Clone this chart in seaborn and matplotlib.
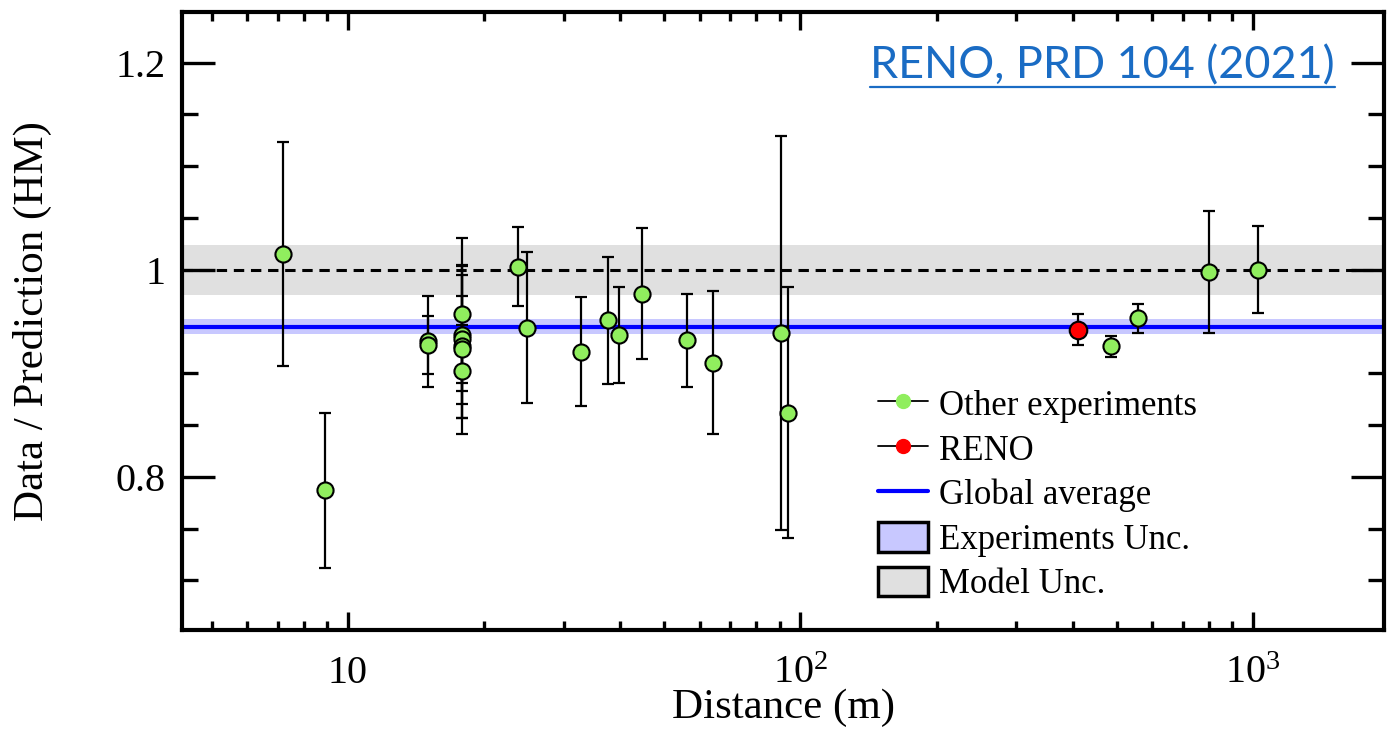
import numpy as np
import pandas as pd
import matplotlib
matplotlib.use("Agg")
import matplotlib.pyplot as plt
from matplotlib.lines import Line2D
from matplotlib.patches import Patch
from matplotlib.ticker import FixedLocator, FixedFormatter
import seaborn as sns

# ---------------- data ----------------
other_distance = [7.2, 8.9, 15.0, 15.0, 17.9, 17.9, 17.9, 17.9, 17.9, 17.9,
                  23.8, 24.9, 32.7, 37.5, 39.7, 44.6, 56.1, 64.1, 90.6, 93.8,
                  486, 557, 799, 1026]
other_ratio = [1.015, 0.787, 0.931, 0.927, 0.957, 0.937, 0.933, 0.926, 0.923, 0.902,
               1.003, 0.944, 0.921, 0.951, 0.937, 0.977, 0.932, 0.910, 0.939, 0.862,
               0.926, 0.953, 0.998, 1.000]
other_err = [0.108, 0.075, 0.044, 0.028, 0.074, 0.067, 0.042, 0.069, 0.082, 0.045,
             0.038, 0.073, 0.053, 0.061, 0.046, 0.063, 0.045, 0.069, 0.190, 0.121,
             0.010, 0.014, 0.059, 0.042]

reno_distance = [411]
reno_ratio = [0.942]
reno_err = [0.015]

global_avg = 0.945
global_avg_unc = 0.0075
model_center = 1.0
model_unc = 0.024

x_major_ticks = [10, 100, 1000]
x_major_labels = ["10", r"$\mathregular{10^{2}}$", r"$\mathregular{10^{3}}$"]
y_major_ticks = [0.8, 1.0, 1.2]
y_major_labels = ["0.8", "1", "1.2"]

legend_labels = ["Other experiments", "RENO", "Global average",
                 "Experiments Unc.", "Model Unc."]
annotation = "RENO, PRD 104 (2021)"

# ---------------- style ----------------
sns.set_style("ticks")
plt.rcParams["font.family"] = ["Liberation Serif", "DejaVu Serif"]
plt.rcParams["mathtext.fontset"] = "custom"
plt.rcParams["mathtext.rm"] = "Liberation Serif"
plt.rcParams["text.color"] = "black"
plt.rcParams["axes.labelcolor"] = "black"
plt.rcParams["xtick.color"] = "black"
plt.rcParams["ytick.color"] = "black"
plt.rcParams["axes.edgecolor"] = "black"

GREEN = "#90ee5e"
RED = "#ff0000"
BLUE = "#0000ff"
BLUE_BAND = "#c8c8ff"
GREY_BAND = "#e0e0e0"
LINK = "#1a6cc4"

fig = plt.figure(figsize=(13.94, 7.30), dpi=100)
ax = fig.add_axes([182 / 1394, 1 - 630 / 730, (1384 - 182) / 1394, (630 - 12) / 730])
ax.set_xscale("log")

# bands and reference lines
ax.axhspan(model_center - model_unc, model_center + model_unc, color=GREY_BAND, lw=0, zorder=0)
ax.axhspan(global_avg - global_avg_unc, global_avg + global_avg_unc, color=BLUE_BAND, lw=0, zorder=1)
ax.axhline(model_center, color="black", lw=2.2, linestyle=(0, (3.4, 2.2)), zorder=2)
ax.axhline(global_avg, color=BLUE, lw=3.0, zorder=2)

# error bars
ax.errorbar(other_distance, other_ratio, yerr=other_err, fmt="none", ecolor="black",
            elinewidth=1.6, capsize=4, capthick=1.6, zorder=3)
ax.errorbar(reno_distance, reno_ratio, yerr=reno_err, fmt="none", ecolor="black",
            elinewidth=1.6, capsize=4, capthick=1.6, zorder=3)

df_other = pd.DataFrame({"d": other_distance, "r": other_ratio})
df_reno = pd.DataFrame({"d": reno_distance, "r": reno_ratio})
sns.scatterplot(data=df_other, x="d", y="r", ax=ax, color=GREEN, edgecolor="black",
                linewidth=1.5, s=135, zorder=4, legend=False)
sns.scatterplot(data=df_reno, x="d", y="r", ax=ax, color=RED, edgecolor="black",
                linewidth=1.5, s=160, zorder=4, legend=False)

# axes
ax.set_xlim(4.3, 1950)
ax.set_ylim(0.652, 1.249)
ax.xaxis.set_major_locator(FixedLocator(x_major_ticks))
ax.xaxis.set_major_formatter(FixedFormatter(x_major_labels))
minor_x = [m * 10 ** e for e in range(0, 4) for m in range(2, 10)]
ax.xaxis.set_minor_locator(FixedLocator(minor_x))
ax.xaxis.set_minor_formatter(FixedFormatter([""] * len(minor_x)))
ax.yaxis.set_major_locator(FixedLocator(y_major_ticks))
ax.yaxis.set_major_formatter(FixedFormatter(y_major_labels))
ax.yaxis.set_minor_locator(FixedLocator(list(np.arange(0.65, 1.26, 0.05))))

for sp in ax.spines.values():
    sp.set_linewidth(3.0)
    sp.set_color("black")
    sp.set_visible(True)
ax.tick_params(axis="both", which="both", direction="in", top=True, right=True,
               width=2.4, color="black", labelcolor="black")
ax.tick_params(axis="x", which="major", length=13, labelsize=29, pad=18)
ax.tick_params(axis="x", which="minor", length=6.5)
ax.tick_params(axis="y", which="major", length=24, labelsize=29, pad=12)
ax.tick_params(axis="y", which="minor", length=11.5)

ax.set_xlabel("Distance (m)", fontsize=31, color="black")
ax.set_ylabel("Data / Prediction (HM)", fontsize=31, color="black")
ax.xaxis.set_label_coords(0.5, -0.095)
ax.yaxis.set_label_coords(-0.108, 0.5)

# legend
handles = [
    Line2D([0], [0], color="black", lw=1.3, marker="o", markersize=10,
           markerfacecolor=GREEN, markeredgecolor=GREEN),
    Line2D([0], [0], color="black", lw=1.3, marker="o", markersize=10,
           markerfacecolor=RED, markeredgecolor=RED),
    Line2D([0], [0], color=BLUE, lw=3.0),
    Patch(facecolor=BLUE_BAND, edgecolor="black", linewidth=2.5),
    Patch(facecolor=GREY_BAND, edgecolor="black", linewidth=2.5),
]
leg = fig.legend(handles, legend_labels, loc="upper left",
                 bbox_to_anchor=(878 / 1394, 1 - 388 / 730), frameon=False,
                 fontsize=25, handlelength=1.45, handleheight=0.95,
                 handletextpad=0.3, labelspacing=0.28, borderpad=0,
                 borderaxespad=0)
for t in leg.get_texts():
    t.set_color("black")

# annotation with underline
txt = fig.text(870 / 1394, 1 - 78 / 730, annotation, fontsize=32.3, color=LINK,
               family=["Lato", "DejaVu Sans"], ha="left", va="baseline")
fig.canvas.draw()
bb = txt.get_window_extent(renderer=fig.canvas.get_renderer())
uy = (730 - 87) / 730
fig.add_artist(Line2D([bb.x0 / 1394, bb.x1 / 1394], [uy, uy], color=LINK, lw=1.6,
                      transform=fig.transFigure))

fig.savefig("out.png", dpi=100)
